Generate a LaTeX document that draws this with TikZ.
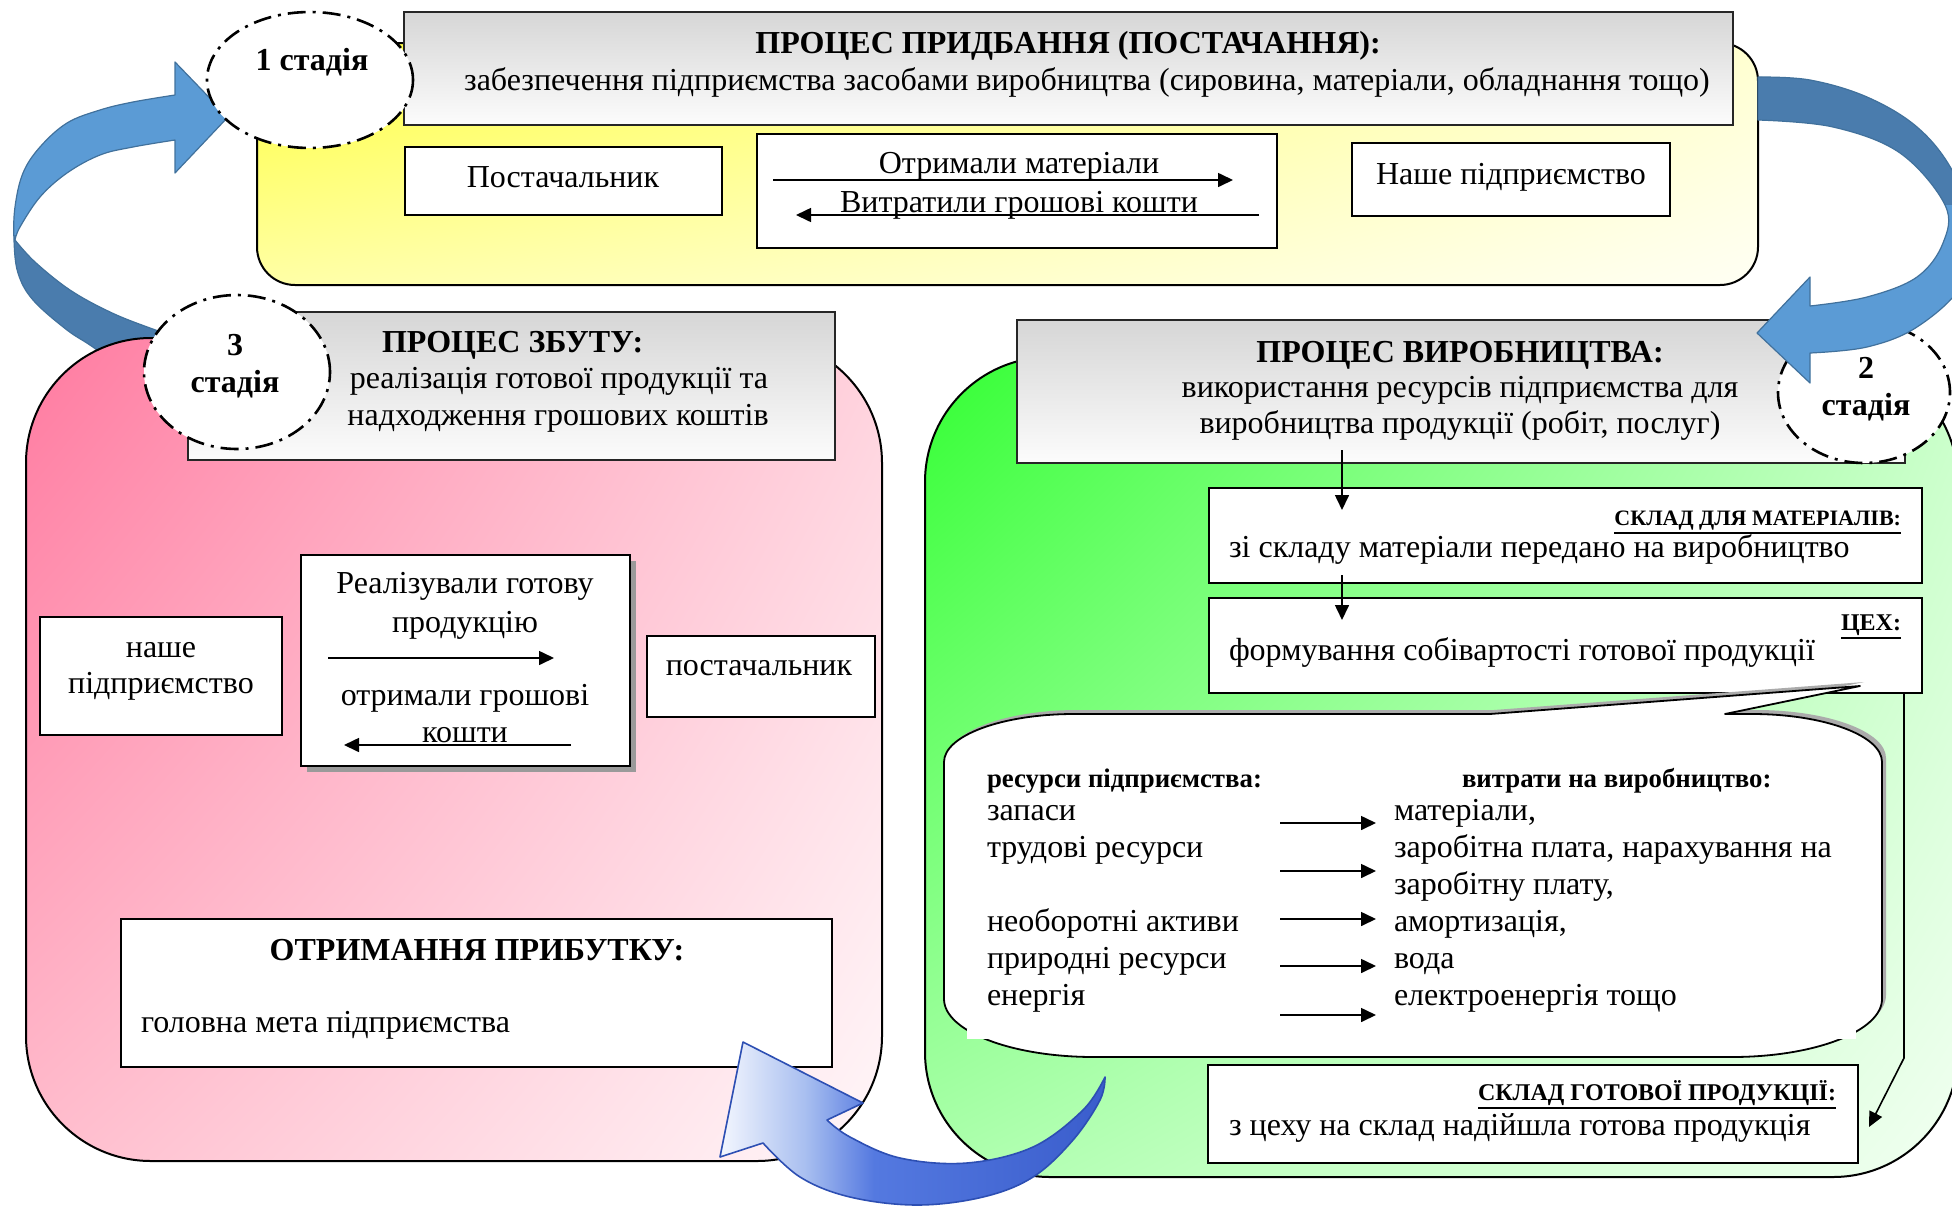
\documentclass[tikz,border=0pt]{standalone}
\usepackage{fontspec}
\setmainfont{Liberation Serif}
\usetikzlibrary{arrows.meta,calc,shapes.geometric,shadings}

\definecolor{ylwA}{HTML}{FFFF3C}
\definecolor{ylwB}{HTML}{FFFFD0}
\definecolor{ylwC}{HTML}{FFFFA6}
\definecolor{ylwD}{HTML}{FFFFF4}
\definecolor{pnkA}{HTML}{FF7AA0}
\definecolor{pnkB}{HTML}{FFD2DD}
\definecolor{pnkC}{HTML}{FFBDCD}
\definecolor{pnkD}{HTML}{FFF7F9}
\definecolor{grnA}{HTML}{33FF33}
\definecolor{grnB}{HTML}{C8FFC8}
\definecolor{grnC}{HTML}{ADFFAD}
\definecolor{grnD}{HTML}{F2FFF2}
\definecolor{hdrtop}{HTML}{D6D6D6}
\definecolor{hdrbot}{HTML}{FCFCFC}
\definecolor{blueL}{HTML}{5B9BD5}
\definecolor{blueD}{HTML}{4A7CAD}
\definecolor{blueO}{HTML}{41719C}
\definecolor{royA}{HTML}{F4F7FE}
\definecolor{royB}{HTML}{A9BFF0}
\definecolor{royC}{HTML}{5479E0}
\definecolor{royD}{HTML}{3A5DCC}
\definecolor{royO}{HTML}{2D4FB3}
\definecolor{shadowgray}{HTML}{9A9A9A}
\definecolor{bubshadow}{HTML}{ABABAB}

\pgfdeclarehorizontalshading{royalarrow}{100bp}{color(0bp)=(royA); color(25bp)=(royA); color(36bp)=(royB); color(45bp)=(royC); color(75bp)=(royD); color(100bp)=(royD)}

\newcommand\fmain{\fontsize{32}{37}\selectfont}
\newcommand\fhd{\fontsize{26.8}{31}\selectfont\bfseries}
\newcommand\fsm{\fontsize{22}{26}\selectfont\bfseries}
\newcommand\fsmb{\fontsize{24}{28}\selectfont\bfseries}
\newcommand\undl[1]{\vtop{\hbox{#1}\kern2pt\hrule height 2pt}}

% curved ribbon arrows (page pixels, y pointing down)
\newcommand\leftribbon{(228,117) -- (175,62) -- (175,95)
  -- plot[smooth, tension=0.6] coordinates {(175,95) (133,102) (100,110) (67,123) (40,147) (23,173) (15,207) (14,240) (18,273) (33,300) (67,330) (97,350) (150,392)}
  -- (215,378) -- (205,347)
  -- plot[smooth, tension=0.6] coordinates {(205,347) (150,328) (110,312) (70,290) (35,262) (15,240)}
  -- plot[smooth, tension=0.6] coordinates {(15,240) (20,227) (40,197) (67,173) (100,155) (133,147) (175,140)}
  -- (175,173) -- cycle}
\newcommand\rightribbon{(1758,77)
  -- plot[smooth, tension=0.6] coordinates {(1758,77) (1810,80) (1867,97) (1917,127) (1952,170) (1975,230) (1962,285) (1917,327) (1867,347) (1810,353)}
  -- (1810,383) -- (1757,333) -- (1810,277) -- (1810,306)
  -- plot[smooth, tension=0.6] coordinates {(1810,306) (1867,297) (1917,277) (1943,243) (1945,205) (1900,153) (1833,127) (1758,120)}
  -- cycle}
\newcommand\bubblepath{(944,762) arc[start angle=180, end angle=270, x radius=130, y radius=48]
  -- (1490,714) -- (1860,686) -- (1725,714) -- (1752,714)
  arc[start angle=270, end angle=360, x radius=130, y radius=48]
  -- (1882,999) arc[start angle=0, end angle=90, x radius=150, y radius=58]
  -- (1094,1057) arc[start angle=90, end angle=180, x radius=150, y radius=58] -- cycle}

\begin{document}
\begin{tikzpicture}[x=1pt,y=-1pt,
  every node/.style={inner sep=0pt, outer sep=0pt},
  lbl/.style={font=\fmain, anchor=base},
  lblb/.style={font=\fmain\bfseries, anchor=base},
  frame/.style={draw=black, line width=1.8pt, fill=white},
  hdr/.style={draw=black!85, line width=2.2pt, top color=hdrtop, bottom color=hdrbot},
  stage/.style={ellipse, draw=black, fill=white, line width=2.6pt, dash pattern=on 18pt off 7pt on 3pt off 7pt},
  flow/.style={line width=1.6pt, -{Triangle[length=15pt,width=14pt]}},
  region/.style={draw=black, line width=2pt, rounded corners=#1},
]
\useasboundingbox (0,0) rectangle (1952,1208);

% ---- arrow from stage 3 back to stage 1
\begin{scope}
  \clip (0,0) rectangle (300,235);
  \fill[blueL] \leftribbon;
\end{scope}
\begin{scope}
  \clip (0,235) rectangle (300,450);
  \fill[blueD] \leftribbon;
\end{scope}
\draw[blueO, line width=1.2pt, line join=round] \leftribbon;

% ---- stage 1: purchasing
\node[region=38pt, upper left=ylwA, upper right=ylwB, lower left=ylwC, lower right=ylwD,
      minimum width=1501pt, minimum height=242pt] (ylw) at (1007.5,164) {};
\node[hdr, minimum width=1329pt, minimum height=113pt] (h1) at (1068.5,68.5) {};
\node[lblb] (h1t) at (1068,53) {ПРОЦЕС ПРИДБАННЯ (ПОСТАЧАННЯ):};
\node[lbl] (h1s) at (1087,90) {забезпечення підприємства засобами виробництва (сировина, матеріали, обладнання тощо)};
\node[stage, minimum width=206pt, minimum height=136pt] (c1) at (310,80) {};
\node[lblb] (c1t) at (312,70) {1 стадія};

\node[frame, minimum width=317pt, minimum height=68pt] (sup1) at (563.5,181) {};
\node[lbl] (sup1t) at (563,187) {Постачальник};
\node[frame, minimum width=520pt, minimum height=114pt] (deal1) at (1017,191) {};
\node[lbl] (deal1a) at (1019,173) {Отримали матеріали};
\node[lbl] (deal1b) at (1019,212) {Витратили грошові кошти};
\draw[flow] ($(deal1.west)+(16,-11)$) -- ($(deal1.east)+(-44,-11)$);
\draw[flow] ($(deal1.east)+(-18,24)$) -- ($(deal1.west)+(39,24)$);
\node[frame, minimum width=318pt, minimum height=73pt] (ent1) at (1511,179.5) {};
\node[lbl] (ent1t) at (1511,184) {Наше підприємство};

% ---- stage 3: sales
\node[region=125pt, upper left=pnkA, upper right=pnkB, lower left=pnkC, lower right=pnkD,
      minimum width=856pt, minimum height=823pt] (pnk) at (454,749.5) {};
\node[hdr, minimum width=647pt, minimum height=148pt] (h3) at (511.5,386) {};
\node[lblb, anchor=base west] (h3t) at (382,352) {ПРОЦЕС ЗБУТУ:};
\node[lbl] (h3a) at (559,388) {реалізація готової продукції та};
\node[lbl] (h3b) at (558,425) {надходження грошових коштів};
\node[stage, minimum width=186pt, minimum height=154pt] (c3) at (237,372) {};
\node[lblb] (c3a) at (235,355) {3};
\node[lblb] (c3b) at (235,392) {стадія};

\node[frame, minimum width=242pt, minimum height=118pt] (ent3) at (161,676) {};
\node[lbl] (ent3a) at (161,657) {наше};
\node[lbl] (ent3b) at (161,693) {підприємство};
\fill[shadowgray] (307,561) rectangle (636,772);
\node[frame, minimum width=329pt, minimum height=211pt] (deal3) at (465.5,660.5) {};
\node[lbl] (deal3a) at (465,593) {Реалізували готову};
\node[lbl] (deal3b) at (465,632) {продукцію};
\node[lbl] (deal3c) at (465,705) {отримали грошові};
\node[lbl] (deal3d) at (465,742) {кошти};
\draw[flow] ($(deal3.west)+(27,-2.5)$) -- ($(deal3.east)+(-76,-2.5)$);
\draw[flow] ($(deal3.east)+(-59,84.5)$) -- ($(deal3.west)+(43,84.5)$);
\node[frame, minimum width=228pt, minimum height=81pt] (sup3) at (761,676.5) {};
\node[lbl] (sup3t) at (759,675) {постачальник};

\node[frame, minimum width=711pt, minimum height=148pt] (goal) at (476.5,993) {};
\node[lblb] (goalt) at (477,960) {ОТРИМАННЯ ПРИБУТКУ:};
\node[lbl, anchor=base west] (goals) at (141,1032) {головна мета підприємства};

% ---- stage 2: production
\node[region=125pt, upper left=grnA, upper right=grnB, lower left=grnC, lower right=grnD,
      minimum width=1033pt, minimum height=820pt] (grn) at (1441.5,767) {};
\node[hdr, minimum width=888pt, minimum height=143pt] (h2) at (1461,391.5) {};
\node[lblb] (h2t) at (1460,362) {ПРОЦЕС ВИРОБНИЦТВА:};
\node[lbl] (h2a) at (1460,397) {використання ресурсів підприємства для};
\node[lbl] (h2b) at (1460,433) {виробництва продукції (робіт, послуг)};
\node[stage, minimum width=172pt, minimum height=141pt] (c2) at (1864,392.5) {};
\node[lblb] (c2a) at (1866,378) {2};
\node[lblb] (c2b) at (1866,415) {стадія};

\node[frame, minimum width=713pt, minimum height=95pt] (store1) at (1565.5,535.5) {};
\node[font=\fsm, anchor=base east] (store1t) at (1901,525) {\undl{СКЛАД ДЛЯ МАТЕРІАЛІВ:}};
\node[lbl, anchor=base west] (store1s) at (1229,557) {зі складу матеріали передано на виробництво};
\node[frame, minimum width=713pt, minimum height=95pt] (shop) at (1565.5,645.5) {};
\node[font=\fsmb, anchor=base east] (shopt) at (1901,630) {\undl{ЦЕХ:}};
\node[lbl, anchor=base west] (shops) at (1229,660) {формування собівартості готової продукції};

\coordinate (colx) at (1342,0);
\draw[flow] ($(h2.south -| colx)+(0,-13)$) -- ($(store1.north -| colx)+(0,22)$);
\draw[flow] ($(store1.south -| colx)+(0,-8)$) -- ($(shop.north -| colx)+(0,22)$);

% callout with resources and costs
\begin{scope}[shift={(4,-4)}]
  \fill[bubshadow] \bubblepath;
\end{scope}
\filldraw[fill=white, draw=black, line width=1.8pt, line join=round] \bubblepath;
\fill[white] (967,1029) rectangle (1856,1039);

\node[font=\fhd, anchor=base west] (resh) at (987,787) {ресурси підприємства:};
\node[font=\fhd, anchor=base west] (costh) at (1462,787) {витрати на виробництво:};
\node[lbl, anchor=base west] (r1) at (987,820) {запаси};
\node[lbl, anchor=base west] (r2) at (987,857) {трудові ресурси};
\node[lbl, anchor=base west] (r3) at (987,931) {необоротні активи};
\node[lbl, anchor=base west] (r4) at (987,968) {природні ресурси};
\node[lbl, anchor=base west] (r5) at (987,1005) {енергія};
\node[lbl, anchor=base west] (e1) at (1394,820) {матеріали,};
\node[lbl, anchor=base west] (e2) at (1394,857) {заробітна плата, нарахування на};
\node[lbl, anchor=base west] (e2b) at (1394,894) {заробітну плату,};
\node[lbl, anchor=base west] (e3) at (1394,931) {амортизація,};
\node[lbl, anchor=base west] (e4) at (1394,968) {вода};
\node[lbl, anchor=base west] (e5) at (1394,1005) {електроенергія тощо};
\foreach \yy in {823,871,919,966,1015}
  \draw[flow] (1280,\yy) -- (1376,\yy);

\node[frame, minimum width=650pt, minimum height=98pt] (store2) at (1533,1114) {};
\node[font=\fsmb, anchor=base east] (store2t) at (1836,1100) {\undl{СКЛАД ГОТОВОЇ ПРОДУКЦІЇ:}};
\node[lbl, anchor=base west] (store2s) at (1229,1135) {з цеху на склад надійшла готова продукція};

\coordinate (rail) at (1904,1058);
\draw[flow] (shop.south -| rail) -- (rail) -- ($(store2.east)+(11,13)$);

% ---- arrow from stage 1 to stage 2
\begin{scope}
  \clip (1700,0) rectangle (2000,205);
  \fill[blueD] \rightribbon;
\end{scope}
\begin{scope}
  \clip (1700,205) rectangle (2000,450);
  \fill[blueL] \rightribbon;
\end{scope}
\draw[blueO, line width=1.2pt, line join=round] \rightribbon;

% ---- arrow from stage 2 to stage 3
\path[shade, shading=royalarrow, draw=royO, line width=1.6pt, line join=round]
  (743,1042) -- (863,1103) -- (827,1120)
  -- plot[smooth, tension=0.6] coordinates {(827,1120) (850,1137) (900,1158) (967,1163) (1033,1147) (1083,1110) (1105,1077)}
  -- plot[smooth, tension=0.6] coordinates {(1105,1077) (1100,1100) (1073,1140) (1033,1177) (983,1197) (917,1205) (850,1197) (800,1177) (763,1143)}
  -- (720,1157) -- cycle;
\end{tikzpicture}
\end{document}
